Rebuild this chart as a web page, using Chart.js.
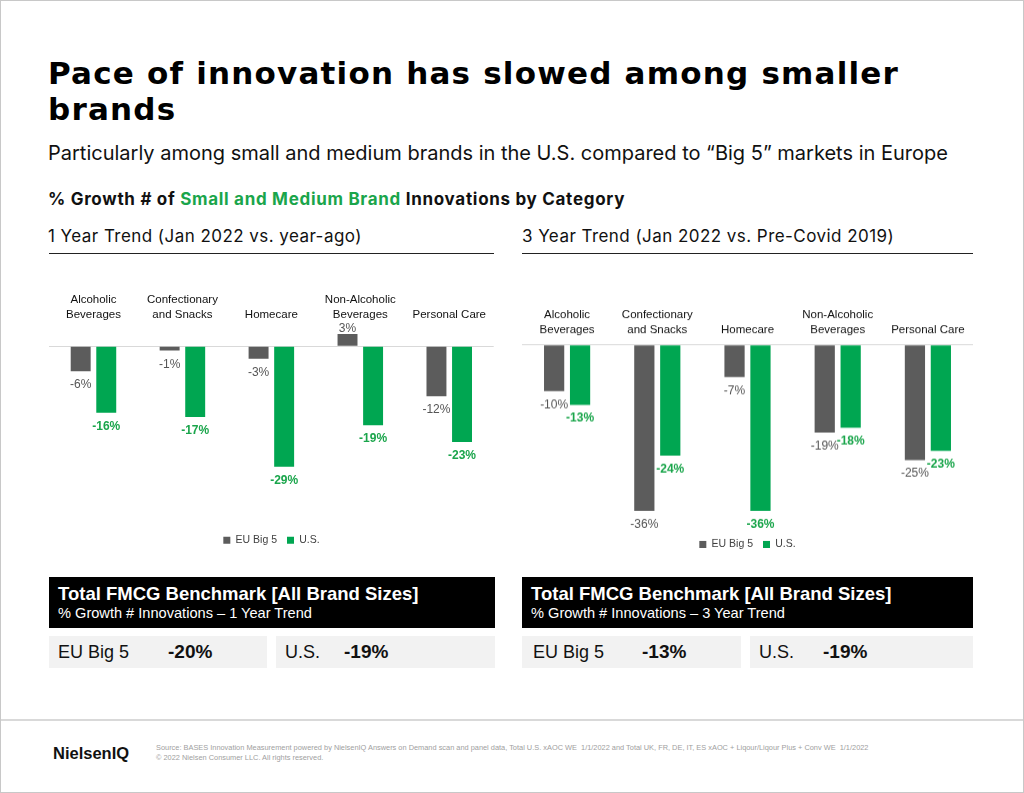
<!DOCTYPE html>
<html>
<head>
<meta charset="utf-8">
<script src="https://cdn.jsdelivr.net/npm/chart.js@4.4.1/dist/chart.umd.min.js"></script>
<style>
  html, body { margin: 0; padding: 0; background: #fff; }
  #page {
    position: relative; width: 1024px; height: 793px; box-sizing: border-box;
    border: 1px solid #c8c8c8; overflow: hidden; font-family: "Liberation Sans", Arial, sans-serif;
  }
  .abs { position: absolute; white-space: nowrap; }
  #title { left: 47px; top: 54px; font-family: "DejaVu Sans", sans-serif; font-weight: bold;
    font-size: 31px; line-height: 36px; color: #000; letter-spacing: 1.2px; }
  #subtitle { left: 47px; top: 139.5px; font-family: Inter, sans-serif; font-size: 20px; color: #111; }
  #section { left: 47px; top: 187.5px; font-family: Inter, sans-serif; font-weight: bold; font-size: 17px;
    letter-spacing: 0.7px; color: #111; }
  #section span { color: #1aa54b; }
  .trend { top: 224.5px; font-family: Inter, sans-serif; font-size: 17px; letter-spacing: 0.45px; color: #111; }
  .rule { position: absolute; top: 252px; height: 0; border-top: 1.5px solid #222; }
  .chartbox { position: absolute; }
  .bench { position: absolute; top: 576px; height: 51px; background: #000; color: #fff; }
  .bench .t1 { position: absolute; left: 9px; top: 6px; font-weight: bold; font-size: 18.5px; white-space: nowrap; }
  .bench .t2 { position: absolute; left: 9px; top: 28px; font-size: 14.6px; white-space: nowrap; }
  .cell { position: absolute; top: 635px; height: 32px; background: #f2f2f2; color: #111; }
  .cell .lab { position: absolute; top: 6px; font-size: 18px; white-space: nowrap; }
  .cell .val { position: absolute; top: 5px; font-size: 19px; font-weight: bold; white-space: nowrap; }
  #footline { position: absolute; left: 0; top: 718px; width: 1024px; height: 0; border-top: 2px solid #d9d9d9; }
  #logo { left: 52px; top: 743px; font-weight: bold; font-size: 16.5px; color: #111; }
  #source { left: 155px; top: 742px; font-family: "Liberation Sans Narrow", "Liberation Sans", sans-serif;
    font-size: 7.4px; line-height: 10px; color: #a0a0a0; }
</style>
</head>
<body>
<div id="page">
  <div id="title" class="abs">Pace of innovation has slowed among smaller<br>brands</div>
  <div id="subtitle" class="abs">Particularly among small and medium brands in the U.S. compared to “Big 5” markets in Europe</div>
  <div id="section" class="abs">% Growth # of <span>Small and Medium Brand</span> Innovations by Category</div>

  <div class="abs trend" style="left:47px;">1 Year Trend (Jan 2022 vs. year-ago)</div>
  <div class="rule" style="left:48px; width:445px;"></div>
  <div class="abs trend" style="left:521px;">3 Year Trend (Jan 2022 vs. Pre-Covid 2019)</div>
  <div class="rule" style="left:521px; width:451px;"></div>

  <div class="chartbox" style="left:48px; top:283.8px; width:445px; height:270.5px;"><canvas id="chartOneYear"></canvas></div>
  <div class="chartbox" style="left:521px; top:299.2px; width:451px; height:258.8px;"><canvas id="chartThreeYear"></canvas></div>

  <div class="bench" style="left:48px; width:446px;">
    <div class="t1">Total FMCG Benchmark [All Brand Sizes]</div>
    <div class="t2">% Growth # Innovations – 1 Year Trend</div>
  </div>
  <div class="cell" style="left:48px; width:218px;"><div class="lab" style="left:9px;">EU Big 5</div><div class="val" id="b1eu" style="left:119px;"></div></div>
  <div class="cell" style="left:275px; width:219px;"><div class="lab" style="left:9px;">U.S.</div><div class="val" id="b1us" style="left:68px;"></div></div>

  <div class="bench" style="left:521px; width:451px;">
    <div class="t1">Total FMCG Benchmark [All Brand Sizes]</div>
    <div class="t2">% Growth # Innovations – 3 Year Trend</div>
  </div>
  <div class="cell" style="left:521px; width:219px;"><div class="lab" style="left:11px;">EU Big 5</div><div class="val" id="b3eu" style="left:120px;"></div></div>
  <div class="cell" style="left:749px; width:223px;"><div class="lab" style="left:9px;">U.S.</div><div class="val" id="b3us" style="left:73px;"></div></div>

  <div id="footline"></div>
  <div id="logo" class="abs">NielsenIQ</div>
  <div id="source" class="abs">Source: BASES Innovation Measurement powered by NielsenIQ Answers on Demand scan and panel data, Total U.S. xAOC WE&nbsp; 1/1/2022 and Total UK, FR, DE, IT, ES xAOC + Liqour/Liqour Plus + Conv WE&nbsp; 1/1/2022<br>© 2022 Nielsen Consumer LLC. All rights reserved.</div>
</div>

<script>
// categorias y valores
const categories = [['Alcoholic', 'Beverages'], ['Confectionary', 'and Snacks'], 'Homecare', ['Non-Alcoholic', 'Beverages'], 'Personal Care'];
const seriesNames = ['EU Big 5', 'U.S.'];
const euOneYear = [-6, -1, -3, 3, -12];
const usOneYear = [-16, -17, -29, -19, -23];
const euThreeYear = [-10, -36, -7, -19, -25];
const usThreeYear = [-13, -24, -36, -18, -23];
// benchmark total FMCG: [1 year, 3 year]
const benchmarkEU = [-20, -13];
const benchmarkUS = [-19, -19];

const GREY = '#5c5c5c';
const GREEN = '#00a651';
const GREEN_TEXT = '#1aa54b';

document.getElementById('b1eu').textContent = benchmarkEU[0] + '%';
document.getElementById('b1us').textContent = benchmarkUS[0] + '%';
document.getElementById('b3eu').textContent = benchmarkEU[1] + '%';
document.getElementById('b3us').textContent = benchmarkUS[1] + '%';

Chart.defaults.font.family = '"Liberation Sans", Arial, sans-serif';

// etiquetas de valor encima / debajo de cada barra
const valueLabels = {
  id: 'valueLabels',
  afterDatasetsDraw(chart) {
    const ctx = chart.ctx;
    ctx.save();
    ctx.textAlign = 'center';
    ctx.textBaseline = 'alphabetic';
    chart.data.datasets.forEach((ds, i) => {
      const meta = chart.getDatasetMeta(i);
      ctx.font = (i === 1 ? 'bold ' : '') + '12px "Liberation Sans", Arial, sans-serif';
      ctx.fillStyle = i === 1 ? GREEN_TEXT : '#555555';
      meta.data.forEach((bar, j) => {
        const v = ds.data[j];
        const y = v < 0 ? bar.y + 17 : bar.y - 2;
        ctx.fillText(v + '%', bar.x, y);
      });
    });
    ctx.restore();
  }
};

function makeChart(id, eu, us, yMin, yMax) {
  return new Chart(document.getElementById(id).getContext('2d'), {
    type: 'bar',
    data: {
      labels: categories,
      datasets: [
        { label: seriesNames[0], data: eu, backgroundColor: GREY, barPercentage: 0.78, categoryPercentage: 0.575 },
        { label: seriesNames[1], data: us, backgroundColor: GREEN, barPercentage: 0.78, categoryPercentage: 0.575 }
      ]
    },
    options: {
      responsive: true,
      maintainAspectRatio: false,
      animation: false,
      layout: { padding: 0 },
      plugins: {
        legend: {
          position: 'bottom',
          labels: { boxWidth: 7, boxHeight: 7, padding: 10, color: '#404040', font: { size: 10.5 } }
        },
        tooltip: { enabled: false }
      },
      scales: {
        x: {
          position: 'top',
          grid: { display: false, drawTicks: false },
          border: { display: false },
          ticks: { color: '#111', font: { size: 11.5, lineHeight: 1.25 }, padding: 8, maxRotation: 0, autoSkip: false }
        },
        y: {
          min: yMin,
          max: yMax,
          ticks: { display: false, stepSize: 1 },
          grid: { drawTicks: false, color: c => c.tick.value === 0 ? '#d9d9d9' : 'rgba(0,0,0,0)' },
          border: { display: false }
        }
      }
    },
    plugins: [valueLabels]
  });
}

makeChart('chartOneYear', euOneYear, usOneYear, -43, 4);
makeChart('chartThreeYear', euThreeYear, usThreeYear, -40, 0);
</script>
</body>
</html>
